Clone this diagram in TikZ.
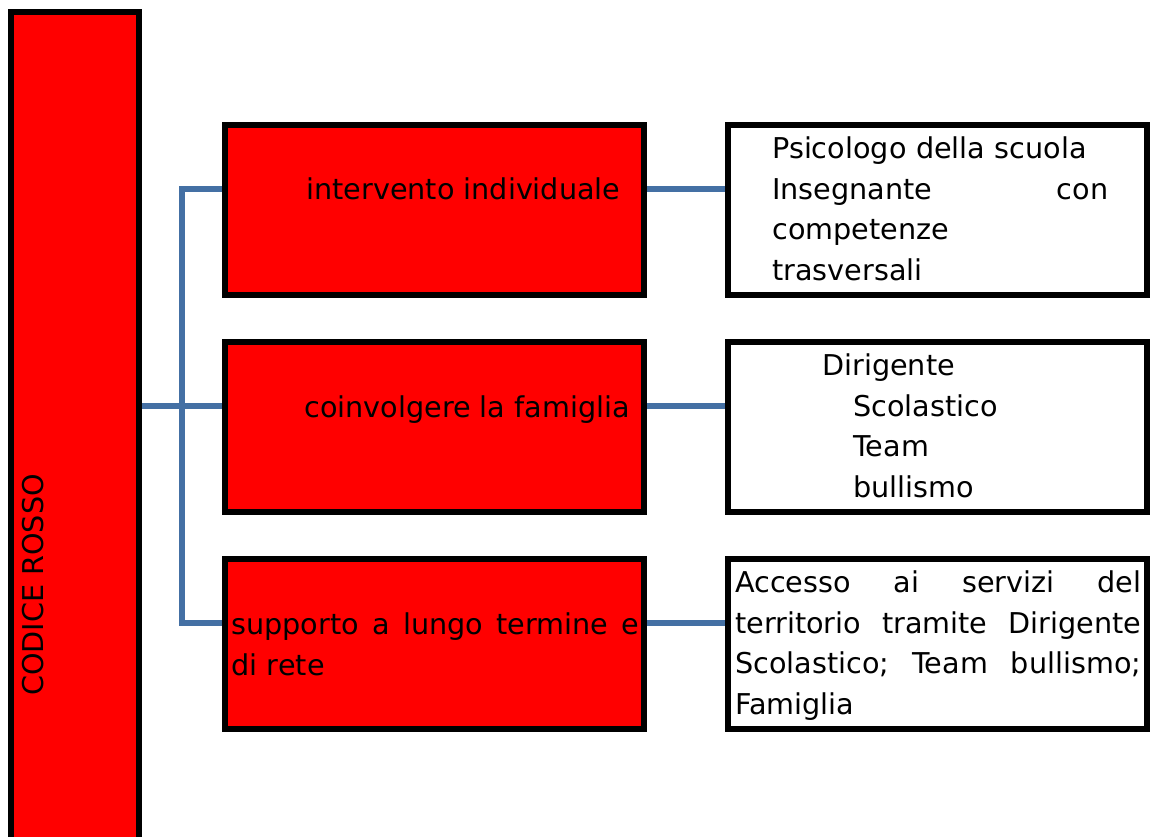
\documentclass[tikz,border=0pt]{standalone}
\usepackage{fontspec}
\setmainfont{DejaVu Sans}
\usetikzlibrary{shapes,arrows,positioning,calc}
\definecolor{linkblue}{RGB}{68,112,164}
\newcommand{\boxfont}{\fontsize{21.5pt}{30.4pt}\selectfont}

\begin{document}
\begin{tikzpicture}[x=0.75pt, y=-0.75pt, node distance=162.75pt,
    redbox/.style={rectangle, draw, line width=4.5pt, fill=red, minimum width=314.25pt, minimum height=127.5pt, inner sep=0pt},
    whitebox/.style={rectangle, draw, line width=4.5pt, fill=white, minimum width=314.25pt, minimum height=127.5pt, inner sep=0pt},
    boxtext/.style={anchor=north west, inner sep=0pt, font=\boxfont, align=left},
    link/.style={draw=linkblue, line width=4.5pt}]
    \useasboundingbox (0,0) rectangle (1159,837);
    \clip (0,0) rectangle (1159,837);

    \node (codice) [rectangle, draw, line width=4.5pt, fill=red, minimum width=96pt, minimum height=636pt] at (75,436) {};
    \node (intervento) [redbox] at (434.5,210) {};
    \node (famiglia) [redbox, below of=intervento] {};
    \node (rete) [redbox, below of=famiglia] {};
    \node (psicologo) [whitebox] at (937.5,210) {};
    \node (dirigente) [whitebox, below of=psicologo] {};
    \node (servizi) [whitebox, below of=dirigente] {};

    % connectors
    \coordinate (hub) at (182,406);
    \draw [link] ($(intervento.west)+(0,-21)$) -| (hub) |- ($(rete.west)+(0,-21)$);
    \draw [link] (codice.east |- hub) -- ($(famiglia.west)+(0,-21)$);
    \draw [link] ($(intervento.east)+(0,-21)$) -- ($(psicologo.west)+(0,-21)$);
    \draw [link] ($(famiglia.east)+(0,-21)$) -- ($(dirigente.west)+(0,-21)$);
    \draw [link] ($(rete.east)+(0,-21)$) -- ($(servizi.west)+(0,-21)$);

    % texts
    \node (codicetext) [font=\boxfont, rotate=90, inner sep=0pt] at (33.5,585) {CODICE ROSSO};
    \node (interventotext) [boxtext] at (306,171) {\strut intervento individuale};
    \node (famigliatext) [boxtext] at (304,389) {\strut coinvolgere la famiglia};
    \node (retetext) [boxtext, text width=306pt] at (231,606) {\strut supporto\hfill a\hfill lungo\hfill termine\hfill e\\di rete};
    \node (psicologotext) [boxtext, text width=252pt] at (772,130) {\strut Psicologo della scuola\\Insegnante\hfill con\\competenze\\trasversali};
    \node (dirigentetext) [boxtext] at (822,347) {\strut Dirigente\\\hspace*{23.25pt}Scolastico\\\hspace*{23.25pt}Team\\\hspace*{23.25pt}bullismo};
    \node (servizitext) [boxtext, text width=304.5pt] at (735,564) {\strut Accesso\hfill ai\hfill servizi\hfill del\\territorio\hfill tramite\hfill Dirigente\\Scolastico;\hfill Team\hfill bullismo;\\Famiglia};
\end{tikzpicture}
\end{document}
